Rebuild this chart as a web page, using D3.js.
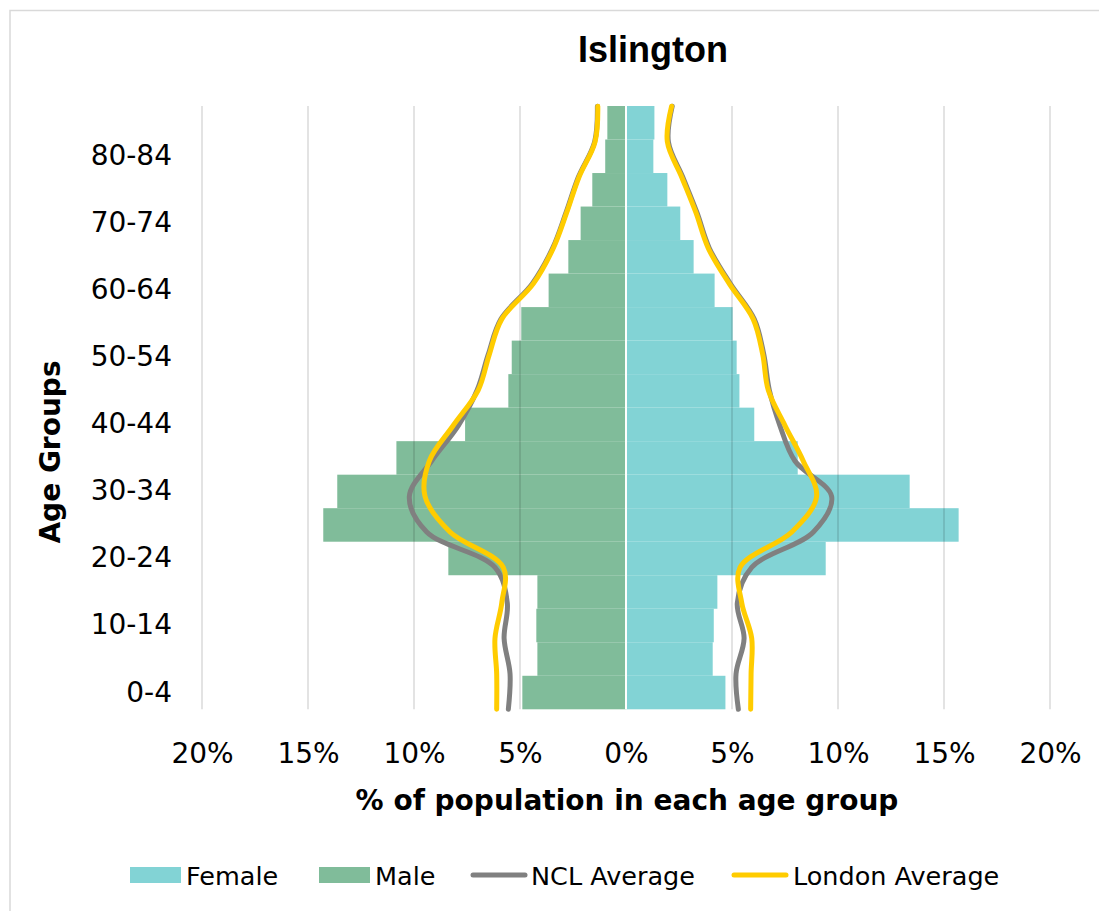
<!DOCTYPE html>
<html>
<head>
<meta charset="utf-8">
<script src="https://cdn.jsdelivr.net/npm/d3@7"></script>
<style>
  html, body { margin: 0; padding: 0; background: #fff; }
  svg { display: block; }
</style>
</head>
<body>
<svg id="chart" width="1099" height="911"></svg>
<script>
// ---- data ----
const ageGroups = ["0-4","5-9","10-14","15-19","20-24","25-29","30-34","35-39","40-44",
                   "45-49","50-54","55-59","60-64","65-69","70-74","75-79","80-84","85+"];
const maleValues   = [4.89, 4.18, 4.23, 4.18, 8.38, 14.28, 13.62, 10.83, 7.59,
                      5.55, 5.39, 4.94, 3.65, 2.72, 2.14, 1.59, 0.98, 0.88];
const femaleValues = [4.69, 4.09, 4.14, 4.31, 9.42, 15.69, 13.38, 8.10, 6.05,
                      5.35, 5.22, 5.03, 4.18, 3.19, 2.56, 1.95, 1.29, 1.34];
const nclMale      = [5.55, 5.47, 5.75, 5.60, 6.18, 9.40, 10.22, 9.17, 7.91,
                      7.02, 6.50, 5.90, 4.42, 3.46, 2.83, 2.25, 1.48, 1.35];
const nclFemale    = [5.30, 5.19, 5.57, 5.25, 5.93, 8.84, 9.70, 7.97, 7.26,
                      6.76, 6.50, 6.05, 4.92, 3.93, 3.35, 2.68, 2.00, 2.18];
const londonMale   = [6.10, 6.10, 6.18, 5.86, 5.79, 8.30, 9.48, 9.28, 8.15,
                      6.97, 6.45, 5.86, 4.37, 3.43, 2.80, 2.22, 1.46, 1.33];
const londonFemale = [5.88, 5.90, 5.93, 5.46, 5.38, 7.82, 8.99, 8.36, 7.50,
                      6.71, 6.45, 6.00, 4.87, 3.88, 3.30, 2.63, 1.95, 2.15];
const xTickValues  = [-20, -15, -10, -5, 0, 5, 10, 15, 20];
const yTickLabels  = ["0-4","10-14","20-24","30-34","40-44","50-54","60-64","70-74","80-84"];
const legendItems  = ["Female", "Male", "NCL Average", "London Average"];

// ---- styles ----
const COL_F = "#82D3D5", COL_M = "#80BC9A", COL_NCL = "#808080", COL_LON = "#FFCC00";
const FONT = "'DejaVu Sans', Verdana, sans-serif";

const svg = d3.select("#chart");
svg.append("rect").attr("width", 1099).attr("height", 911).attr("fill", "#fff");
svg.append("rect").attr("x", 10).attr("y", 10.5).attr("width", 1200).attr("height", 1000)
   .attr("fill", "none").attr("stroke", "#D9D9D9").attr("stroke-width", 1.5);

const plot = { left: 202, right: 1050, top: 106, bottom: 709.3 };
const x = d3.scaleLinear().domain([-20, 20]).range([plot.left, plot.right]);
const yBand = d3.scaleBand().domain(ageGroups.slice().reverse())
                .range([plot.top, plot.bottom]).padding(0);
const yLine = d3.scaleLinear().domain([0, ageGroups.length - 1])
                .range([plot.bottom, plot.top + 0.3]);

// bars
const g = svg.append("g");
g.selectAll("rect.male").data(ageGroups).join("rect").attr("class", "male")
  .attr("x", (d, i) => x(-maleValues[i])).attr("width", (d, i) => x(0) - x(-maleValues[i]))
  .attr("y", d => yBand(d)).attr("height", yBand.bandwidth()).attr("fill", COL_M);
g.selectAll("rect.female").data(ageGroups).join("rect").attr("class", "female")
  .attr("x", x(0)).attr("width", (d, i) => x(femaleValues[i]) - x(0))
  .attr("y", d => yBand(d)).attr("height", yBand.bandwidth()).attr("fill", COL_F);

// gridlines (drawn over bars, translucent)
g.selectAll("line.grid").data(xTickValues.filter(v => v !== 0)).join("line").attr("class", "grid")
  .attr("x1", d => x(d)).attr("x2", d => x(d))
  .attr("y1", plot.top).attr("y2", plot.bottom)
  .attr("stroke", "#000").attr("stroke-opacity", 0.15).attr("stroke-width", 1.5);
g.append("line").attr("x1", x(0)).attr("x2", x(0)).attr("y1", plot.top).attr("y2", plot.bottom)
  .attr("stroke", "#fff").attr("stroke-width", 2);

// average lines
const line = d3.line().curve(d3.curveCatmullRom.alpha(0.5))
  .x(d => x(d[0])).y(d => yLine(d[1]));
function drawSeries(vals, sign, color) {
  svg.append("path").datum(vals.map((v, i) => [sign * v, i]))
    .attr("d", line).attr("fill", "none").attr("stroke", color)
    .attr("stroke-width", 5).attr("stroke-linecap", "round");
}
drawSeries(nclMale, -1, COL_NCL);
drawSeries(nclFemale, 1, COL_NCL);
drawSeries(londonMale, -1, COL_LON);
drawSeries(londonFemale, 1, COL_LON);

// x axis
const xAxis = svg.append("g").attr("transform", `translate(0,${plot.bottom})`)
  .call(d3.axisBottom(x).tickValues(xTickValues).tickFormat(d => Math.abs(d) + "%").tickSize(0));
xAxis.select(".domain").remove();
xAxis.selectAll("text").attr("y", 54).attr("dy", 0)
  .attr("font-family", FONT).attr("font-size", 28).attr("fill", "#000");

// y axis
const yAxis = svg.append("g").attr("transform", `translate(${plot.left},0)`)
  .call(d3.axisLeft(yBand).tickValues(yTickLabels).tickSize(0).tickPadding(30));
yAxis.select(".domain").remove();
yAxis.selectAll("text").attr("font-family", FONT).attr("font-size", 28).attr("fill", "#000");

// titles
svg.append("text").attr("x", 653).attr("y", 62).attr("text-anchor", "middle")
  .attr("font-family", "'Liberation Sans', Arial, sans-serif").attr("font-weight", "bold")
  .attr("font-size", 36).attr("fill", "#000").text("Islington");
svg.append("text").attr("x", 627).attr("y", 810).attr("text-anchor", "middle")
  .attr("font-family", FONT).attr("font-weight", "bold").attr("font-size", 28)
  .attr("fill", "#000").text("% of population in each age group");
svg.append("text").attr("transform", "translate(60,452) rotate(-90)").attr("text-anchor", "middle")
  .attr("font-family", FONT).attr("font-weight", "bold").attr("font-size", 28)
  .attr("fill", "#000").text("Age Groups");

// legend
const legendX = [130, 319, 471, 732];
const legendTextX = [186, 375, 531, 793];
legendItems.forEach((name, i) => {
  if (i < 2) {
    svg.append("rect").attr("x", legendX[i]).attr("y", 867).attr("width", 51).attr("height", 16)
      .attr("fill", i === 0 ? COL_F : COL_M);
  } else {
    svg.append("line").attr("x1", legendX[i] + 2).attr("x2", legendX[i] + 54)
      .attr("y1", 875).attr("y2", 875)
      .attr("stroke", i === 2 ? COL_NCL : COL_LON).attr("stroke-width", 5).attr("stroke-linecap", "round");
  }
  svg.append("text").attr("x", legendTextX[i]).attr("y", 885)
    .attr("font-family", FONT).attr("font-size", 25.5).attr("fill", "#000").text(name);
});
</script>
</body>
</html>
